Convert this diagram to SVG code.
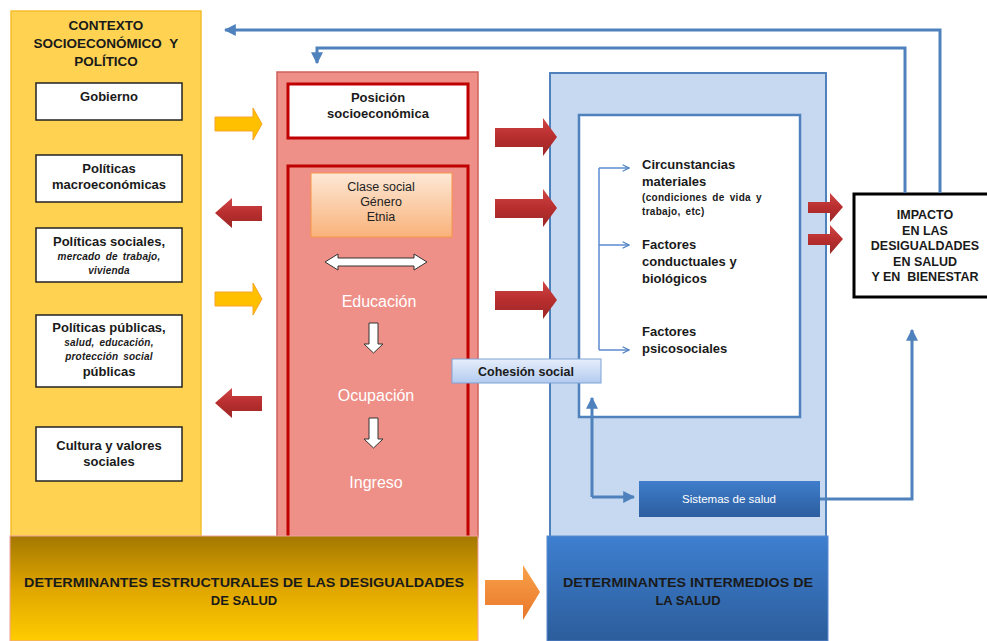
<svg xmlns="http://www.w3.org/2000/svg" width="987" height="641" viewBox="0 0 987 641">
<defs>
<linearGradient id="gOrange" x1="0" y1="0" x2="0" y2="1"><stop offset="0" stop-color="#FDE8D6"/><stop offset="1" stop-color="#F9B27A"/></linearGradient>
<linearGradient id="gCoh" x1="0" y1="0" x2="0" y2="1"><stop offset="0" stop-color="#E6EEFB"/><stop offset="1" stop-color="#B3CBEF"/></linearGradient>
<linearGradient id="gSis" x1="0" y1="0" x2="0" y2="1"><stop offset="0" stop-color="#3F7DCB"/><stop offset="1" stop-color="#2C5E9F"/></linearGradient>
<linearGradient id="gGold" x1="0" y1="0" x2="0" y2="1"><stop offset="0" stop-color="#A47800"/><stop offset="0.5" stop-color="#DFA600"/><stop offset="1" stop-color="#FFCC00"/></linearGradient>
<linearGradient id="gBlueBar" x1="0" y1="0" x2="0" y2="1"><stop offset="0" stop-color="#3E7FD0"/><stop offset="1" stop-color="#2C5D9B"/></linearGradient>
<linearGradient id="gRedArrow" x1="0" y1="0" x2="0" y2="1"><stop offset="0" stop-color="#D04545"/><stop offset="0.5" stop-color="#B82E2E"/><stop offset="1" stop-color="#9C2626"/></linearGradient>
<linearGradient id="gOrArrow" x1="0" y1="0" x2="0" y2="1"><stop offset="0" stop-color="#F9A24A"/><stop offset="1" stop-color="#E8762A"/></linearGradient>
<marker id="mBlue" viewBox="0 0 10 10" refX="9" refY="5" markerWidth="4" markerHeight="4" orient="auto"><path d="M0,0 L10,5 L0,10 z" fill="#4F81BD"/></marker>
<marker id="mOpen" viewBox="0 0 10 10" refX="9" refY="5" markerWidth="8" markerHeight="8" orient="auto" markerUnits="userSpaceOnUse"><path d="M1,1 L9,5 L1,9" fill="none" stroke="#4F81BD" stroke-width="1.5"/></marker>
</defs>
<style>
text{font-family:"Liberation Sans",Arial,sans-serif;}
.b{font-weight:bold;fill:#1a1a1a;}
.wbox{fill:#ffffff;stroke:#222;stroke-width:1.5;}
.c{text-anchor:middle;}
.wt{fill:#ffffff;font-size:16px;text-anchor:middle;}
.it{font-size:10px;font-style:italic;word-spacing:2px;letter-spacing:0.2px;}
.bl{fill:none;stroke:#4F81BD;stroke-width:3;}
.thin{fill:none;stroke:#5B8BD0;stroke-width:1.5;}
</style>
<rect width="987" height="641" fill="#ffffff"/>

<!-- Yellow context panel -->
<g id="contexto">
<rect x="11" y="11" width="190" height="526" fill="#FFD351" stroke="#F5BE2E" stroke-width="1.5"/>
<text class="b c" font-size="13.5" x="106" y="30">CONTEXTO</text>
<text class="b c" font-size="13.5" x="106" y="48">SOCIOECONÓMICO&#160;&#160;Y</text>
<text class="b c" font-size="13.5" x="106" y="66">POLÍTICO</text>
</g>
<g id="gobierno"><rect class="wbox" x="36" y="83" width="146" height="37"/><text class="b c" font-size="13" x="109" y="101">Gobierno</text></g>
<g id="macro"><rect class="wbox" x="36" y="155" width="146" height="47"/><text class="b c" font-size="13" x="109" y="173">Políticas</text><text class="b c" font-size="13" x="109" y="189">macroeconómicas</text></g>
<g id="sociales"><rect class="wbox" x="36" y="228" width="146" height="54"/><text class="b c" font-size="13" x="109" y="246">Políticas sociales,</text><text class="b c it" x="109" y="260">mercado de trabajo,</text><text class="b c it" x="109" y="274">vivienda</text></g>
<g id="publicas"><rect class="wbox" x="36" y="315" width="146" height="72"/><text class="b c" font-size="13" x="109" y="332">Políticas públicas,</text><text class="b c it" x="109" y="346">salud, educación,</text><text class="b c it" x="109" y="360">protección social</text><text class="b c" font-size="13" x="109" y="376">públicas</text></g>
<g id="cultura"><rect class="wbox" x="36" y="427" width="146" height="54"/><text class="b c" font-size="13" x="109" y="450">Cultura y valores</text><text class="b c" font-size="13" x="109" y="466">sociales</text></g>

<!-- Red structural panel -->
<g id="posicion-panel">
<rect x="277" y="72" width="201" height="465" fill="#EE8F88" stroke="#D0625C" stroke-width="1.5"/>
<rect x="288" y="166" width="180" height="375" fill="#EE8F88" stroke="#C00000" stroke-width="3"/>
</g>
<g id="posicion"><rect x="288" y="84" width="180" height="54" fill="#ffffff" stroke="#C00000" stroke-width="3"/><text class="b c" font-size="13" x="378" y="102">Posición</text><text class="b c" font-size="13" x="378" y="118">socioeconómica</text></g>
<g id="clase"><rect x="311" y="173" width="141" height="64" fill="url(#gOrange)" stroke="#F79646" stroke-width="1"/><text class="c" font-size="12.5" fill="#222" x="381" y="191">Clase social</text><text class="c" font-size="12.5" fill="#222" x="381" y="206">Género</text><text class="c" font-size="12.5" fill="#222" x="381" y="221">Etnia</text></g>
<g id="educacion"><text class="wt" x="379" y="307">Educación</text></g>
<g id="ocupacion"><text class="wt" x="376" y="401">Ocupación</text></g>
<g id="ingreso"><text class="wt" x="376" y="488">Ingreso</text></g>

<!-- Blue intermediate panel -->
<g id="intermedios-panel">
<rect x="550" y="73" width="276" height="464" fill="#C6D9F0" stroke="#4F81BD" stroke-width="2"/>
<rect x="579" y="115" width="221" height="302" fill="#ffffff" stroke="#4F81BD" stroke-width="2.5"/>
</g>
<g id="circunstancias"><text class="b" font-size="13" x="642" y="169">Circunstancias</text><text class="b" font-size="13" x="642" y="186">materiales</text><text class="b" font-size="10" letter-spacing="0.3" word-spacing="2" x="642" y="201">(condiciones de vida y</text><text class="b" font-size="10" letter-spacing="0.3" word-spacing="2" x="642" y="215">trabajo, etc)</text></g>
<g id="conductuales"><text class="b" font-size="13" x="642" y="249">Factores</text><text class="b" font-size="13" x="642" y="266">conductuales y</text><text class="b" font-size="13" x="642" y="283">biológicos</text></g>
<g id="psicosociales"><text class="b" font-size="13" x="642" y="336">Factores</text><text class="b" font-size="13" x="642" y="353">psicosociales</text></g>
<g id="cohesion"><rect x="452" y="359" width="149" height="24" fill="url(#gCoh)" stroke="#7FA3D6" stroke-width="1"/><text class="b c" font-size="12.5" x="526" y="376">Cohesión social</text></g>
<g id="sistemas"><rect x="639" y="481" width="181" height="36" fill="url(#gSis)"/><text class="c" font-size="11.5" fill="#ffffff" x="729" y="503">Sistemas de salud</text></g>
<g id="impacto"><rect x="854" y="194" width="140" height="103" fill="#ffffff" stroke="#000" stroke-width="3"/><text class="b c" font-size="12.5" x="925" y="219">IMPACTO</text><text class="b c" font-size="12.5" x="925" y="235">EN LAS</text><text class="b c" font-size="12.5" x="925" y="250">DESIGUALDADES</text><text class="b c" font-size="12.5" x="925" y="266">EN SALUD</text><text class="b c" font-size="12.5" x="925" y="281">Y EN&#160;&#160;BIENESTAR</text></g>

<!-- Bottom bars -->
<g id="estructurales"><rect x="10" y="536" width="468" height="105" fill="url(#gGold)" stroke="#F2A0A0" stroke-width="1"/><text class="b c" font-size="13" x="244" y="587" textLength="440" lengthAdjust="spacingAndGlyphs">DETERMINANTES ESTRUCTURALES DE LAS DESIGUALDADES</text><text class="b c" font-size="13" x="244" y="605">DE SALUD</text></g>
<g id="intermedios"><rect x="547" y="536" width="281" height="105" fill="url(#gBlueBar)" stroke="#5B8BD0" stroke-width="1"/><text class="b c" font-size="13" x="688" y="587" textLength="250" lengthAdjust="spacingAndGlyphs">DETERMINANTES INTERMEDIOS DE</text><text class="b c" font-size="13" x="688" y="605">LA SALUD</text></g>

<!-- Connectors -->
<g id="connectors">
<path d="M215,117 H253 V108 L262,124 L253,140 V131 H215 Z" fill="#FFC000" stroke="#F7A52A" stroke-width="1"/>
<path d="M215,292 H253 V283 L262,299 L253,315 V306 H215 Z" fill="#FFC000" stroke="#F7A52A" stroke-width="1"/>
<path d="M262,206 H232 V198 L215,213 L232,228 V221 H262 Z" fill="url(#gRedArrow)"/>
<path d="M262,396 H232 V388 L215,403 L232,418 V411 H262 Z" fill="url(#gRedArrow)"/>
<path d="M495,128 H543 V118 L557,137 L543,156 V147 H495 Z" fill="url(#gRedArrow)"/>
<path d="M495,199 H543 V189 L557,208 L543,227 V218 H495 Z" fill="url(#gRedArrow)"/>
<path d="M495,291 H543 V281 L557,300 L543,319 V310 H495 Z" fill="url(#gRedArrow)"/>
<path d="M808,202 H830 V193 L843,207 L830,222 V213 H808 Z" fill="url(#gRedArrow)"/>
<path d="M808,234 H830 V225 L843,239 L830,254 V245 H808 Z" fill="url(#gRedArrow)"/>
<path d="M485,580 H523 V565 L540,592 L523,620 V605 H485 Z" fill="url(#gOrArrow)"/>
<path d="M325,262 L338,254 V258 H414 V254 L427,262 L414,270 V266 H338 V270 Z" fill="#ffffff" stroke="#333" stroke-width="1"/>
<path d="M369,323 H378 V344 H383 L373.5,353 L364,344 H369 Z" fill="#ffffff" stroke="#333" stroke-width="1"/>
<path d="M369,418 H378 V439 H383 L373.5,448 L364,439 H369 Z" fill="#ffffff" stroke="#333" stroke-width="1"/>
<path class="thin" d="M599,168 V350"/>
<path class="thin" d="M599,168 H629" marker-end="url(#mOpen)"/>
<path class="thin" d="M599,245 H629" marker-end="url(#mOpen)"/>
<path class="thin" d="M599,350 H629" marker-end="url(#mOpen)"/>
<path class="bl" d="M592,497 V398" marker-end="url(#mBlue)"/>
<path class="bl" d="M592,497 H634" marker-end="url(#mBlue)"/>
<path class="bl" d="M820,499 H912 V330" marker-end="url(#mBlue)"/>
<path class="bl" d="M940,193 V30 H225" marker-end="url(#mBlue)"/>
<path class="bl" d="M905,193 V48 H317 V63" marker-end="url(#mBlue)"/>
</g>
</svg>
